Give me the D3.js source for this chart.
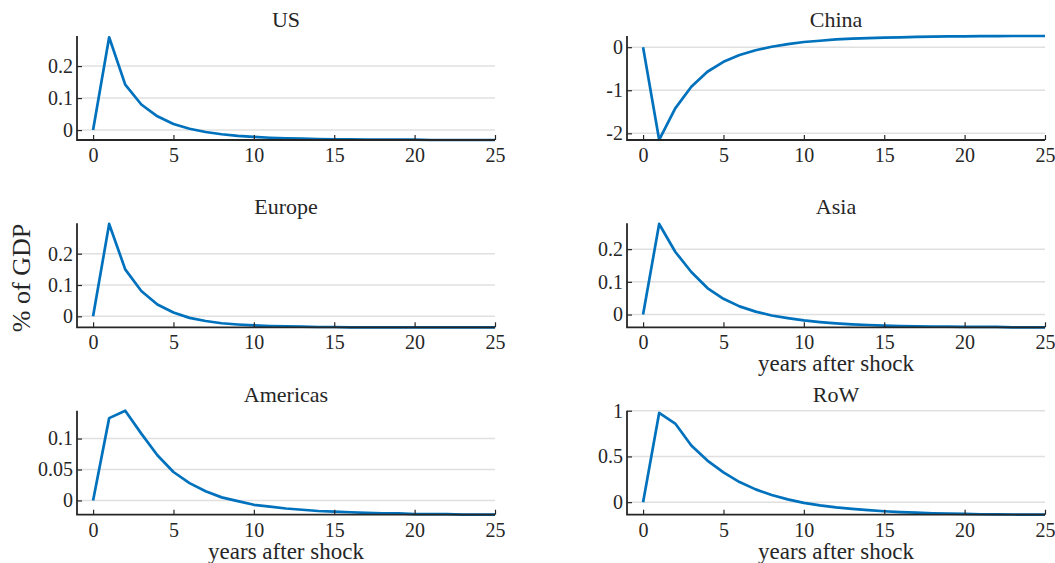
<!DOCTYPE html>
<head>
<meta charset="utf-8">
<script src="https://d3js.org/d3.v7.min.js"></script>
<style>
  body { margin: 0; background: #fff; }
  text { font-family: "Liberation Serif", "DejaVu Serif", serif; fill: #262626; }
</style>
</head>
<body>
<div id="chart"></div>
<script>

// years after the shock, 0..25
var years = d3.range(0, 26);

var regions = ["US", "China", "Europe", "Asia", "Americas", "RoW"];

// responses, % of GDP
var usValues = [0, 0.29, 0.142, 0.080, 0.043, 0.019, 0.004, -0.006, -0.013, -0.018, -0.021, -0.024, -0.026,
  -0.027, -0.028, -0.029, -0.029, -0.030, -0.030, -0.030, -0.030, -0.031, -0.031, -0.031, -0.031, -0.031];
var chinaValues = [0, -2.15, -1.42, -0.92, -0.57, -0.34, -0.18, -0.07, 0.01, 0.07, 0.12, 0.15, 0.18,
  0.20, 0.21, 0.22, 0.23, 0.24, 0.245, 0.25, 0.25, 0.255, 0.255, 0.26, 0.26, 0.26];
var europeValues = [0, 0.295, 0.15, 0.081, 0.038, 0.012, -0.005, -0.015, -0.022, -0.026, -0.029, -0.031, -0.032,
  -0.033, -0.034, -0.034, -0.035, -0.035, -0.035, -0.035, -0.035, -0.035, -0.035, -0.035, -0.035, -0.035];
var asiaValues = [0, 0.277, 0.192, 0.13, 0.081, 0.048, 0.025, 0.009, -0.003, -0.011, -0.018, -0.023, -0.027,
  -0.030, -0.032, -0.034, -0.035, -0.036, -0.037, -0.037, -0.038, -0.038, -0.038, -0.039, -0.039, -0.039];
var americasValues = [0, 0.133, 0.145, 0.108, 0.073, 0.046, 0.028, 0.015, 0.005, -0.001, -0.007, -0.010, -0.013,
  -0.015, -0.017, -0.018, -0.019, -0.020, -0.021, -0.021, -0.022, -0.022, -0.022, -0.023, -0.023, -0.023];
var rowValues = [0, 0.975, 0.86, 0.62, 0.455, 0.325, 0.22, 0.14, 0.078, 0.03, -0.008, -0.035, -0.057,
  -0.074, -0.088, -0.099, -0.108, -0.115, -0.121, -0.126, -0.129, -0.132, -0.134, -0.135, -0.136, -0.137];

var series = [usValues, chinaValues, europeValues, asiaValues, americasValues, rowValues];

// y limits and tick values per panel
var yLimits = [[-0.031, 0.294], [-2.155, 0.26], [-0.035, 0.297], [-0.039, 0.279], [-0.023, 0.145], [-0.137, 1]];
var yTicks = [[0, 0.1, 0.2], [-2, -1, 0], [0, 0.1, 0.2], [0, 0.1, 0.2], [0, 0.05, 0.1], [0, 0.5, 1]];
var xTicks = [0, 5, 10, 15, 20, 25];

var width = 1055,
    height = 563;

var svg = d3.select("#chart")
    .append("svg")
    .attr("width", width)
    .attr("height", height);

// panel geometry
var colLeft = [77, 627],
    panelWidth = 418,
    rowTop = [36, 223.3, 410.7],
    panelHeight = 104;

var axisColor = "#262626",
    lineColor = "#0072bd",
    gridColor = "#e0e0e0",
    tickLen = 5;

regions.forEach(function(name, i) {
    var col = i % 2,
        row = Math.floor(i / 2);

    var x = d3.scaleLinear().domain([-1, 25]).range([0, panelWidth]);
    var y = d3.scaleLinear().domain(yLimits[i]).range([panelHeight, 0]);

    var g = svg.append("g")
        .attr("transform", "translate(" + colLeft[col] + "," + rowTop[row] + ")");

    // horizontal grid
    g.selectAll(".grid")
        .data(yTicks[i])
        .enter().append("line")
        .attr("x1", 0)
        .attr("x2", panelWidth)
        .attr("y1", d => y(d))
        .attr("y2", d => y(d))
        .attr("stroke", gridColor)
        .attr("stroke-width", 1.5);

    // response line
    var line = d3.line()
        .x((d, j) => x(years[j]))
        .y(d => y(d));

    g.append("path")
        .datum(series[i])
        .attr("d", line)
        .attr("fill", "none")
        .attr("stroke", lineColor)
        .attr("stroke-width", 2.7)
        .attr("stroke-linejoin", "round");

    // axes, ticks pointing inward
    var xAxis = d3.axisBottom(x)
        .tickValues(xTicks)
        .tickSize(-tickLen)
        .tickPadding(8)
        .tickFormat(d3.format("d"));

    var yAxis = d3.axisLeft(y)
        .tickValues(yTicks[i])
        .tickSize(-tickLen)
        .tickPadding(4)
        .tickFormat(d => String(d));

    var gx = g.append("g")
        .attr("transform", "translate(0," + panelHeight + ")")
        .call(xAxis);

    var gy = g.append("g").call(yAxis);

    [gx, gy].forEach(function(a) {
        a.attr("font-family", null).attr("font-size", null);
        a.select(".domain").remove();
        a.selectAll(".tick line").attr("stroke", axisColor).attr("stroke-width", 1.2);
        a.selectAll(".tick text")
            .attr("fill", axisColor)
            .style("font-size", "20px");
    });

    // axis lines (box off)
    g.append("path")
        .attr("d", "M0,0V" + panelHeight + "H" + panelWidth)
        .attr("fill", "none")
        .attr("stroke", axisColor)
        .attr("stroke-width", 1.8);

    // panel title
    g.append("text")
        .attr("x", panelWidth / 2)
        .attr("y", -9)
        .attr("text-anchor", "middle")
        .style("font-size", "22px")
        .text(name);

    // x label on the lowest panel of each column, plus Asia
    if (row === 2 || name === "Asia") {
        g.append("text")
            .attr("x", panelWidth / 2)
            .attr("y", panelHeight + 44)
            .attr("text-anchor", "middle")
            .style("font-size", "23px")
            .text("years after shock");
    }
});

// shared y label
svg.append("text")
    .attr("transform", "translate(30,278) rotate(-90)")
    .attr("text-anchor", "middle")
    .style("font-size", "26px")
    .text("% of GDP");

</script>
</body>
